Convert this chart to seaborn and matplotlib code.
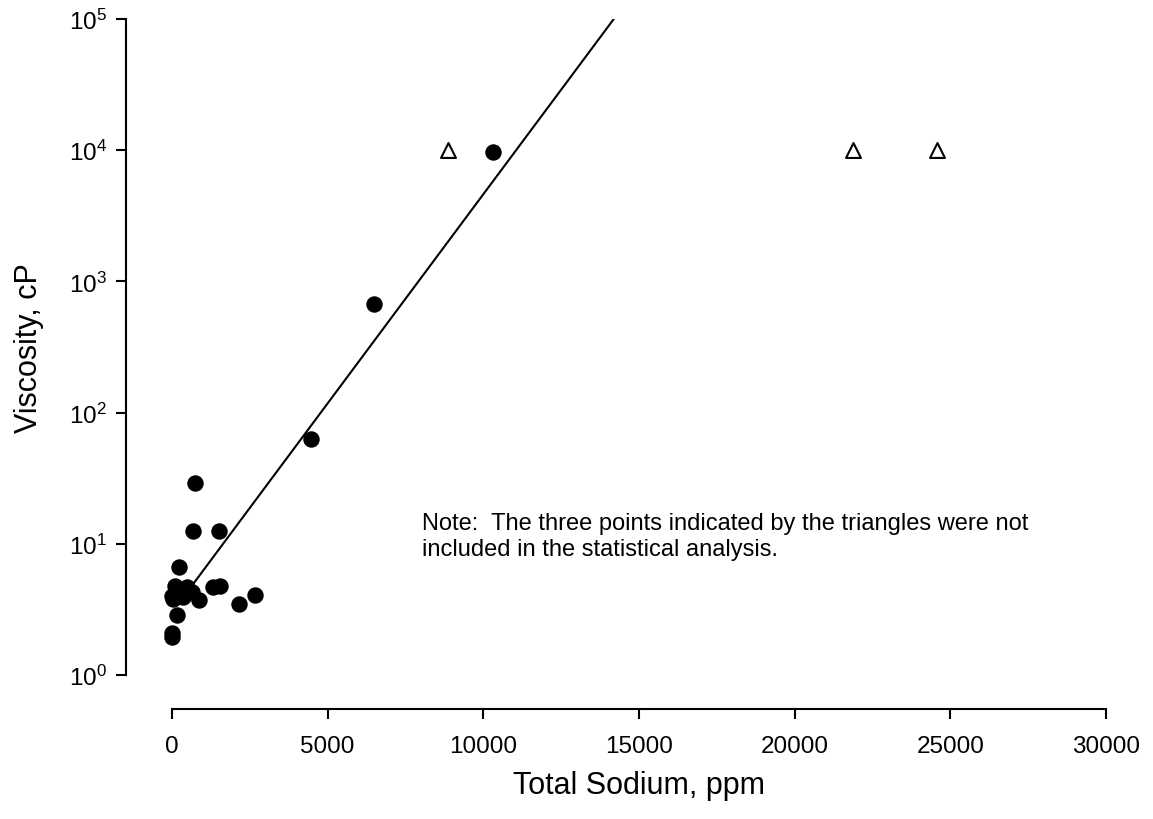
import matplotlib
matplotlib.use("Agg")
import matplotlib.pyplot as plt
import seaborn as sns
import pandas as pd

# points used in the fit (filled circles)
sodium_ppm = [10300, 6500, 4480, 740, 660, 1510, 230, 870, 1330, 1540, 2150, 2660,
              150, 0, 0, 0, 100, 260, 470, 360, 30, 630]
viscosity_cp = [9700, 670, 63, 29, 12.6, 12.6, 6.7, 3.7, 4.65, 4.8, 3.45, 4.1,
                2.87, 2.1, 1.95, 4.0, 4.8, 4.3, 4.7, 3.9, 3.8, 4.3]

# points left out of the analysis (open triangles)
excluded_sodium = [8860, 21870, 24570]
excluded_visc = [10000, 10000, 10000]

# regression line end points
fit_sodium = [680, 14190]
fit_visc = [4.94, 100000]

note = ("Note:  The three points indicated by the triangles were not\n"
        "included in the statistical analysis.")


def main():
    sns.set_style("ticks")
    plt.rcParams["font.family"] = ["Liberation Sans", "DejaVu Sans"]
    plt.rcParams["mathtext.fontset"] = "custom"
    plt.rcParams["mathtext.rm"] = "Liberation Sans"
    plt.rcParams["text.color"] = "black"
    plt.rcParams["axes.labelcolor"] = "black"

    df = pd.DataFrame({"sodium": sodium_ppm, "visc": viscosity_cp})
    df_ex = pd.DataFrame({"sodium": excluded_sodium, "visc": excluded_visc})
    df_fit = pd.DataFrame({"sodium": fit_sodium, "visc": fit_visc})

    fig = plt.figure(figsize=(11.53, 8.2), dpi=100)
    ax = fig.add_axes([172 / 1153, 144 / 820, 934 / 1153, 656 / 820])

    sns.lineplot(data=df_fit, x="sodium", y="visc", color="black", lw=1.5, ax=ax)
    sns.scatterplot(data=df, x="sodium", y="visc", color="black", s=140,
                    edgecolor="black", linewidth=0, ax=ax, zorder=3, clip_on=False)
    sns.scatterplot(data=df_ex, x="sodium", y="visc", marker="^", s=115,
                    facecolor="white", edgecolor="black", linewidth=1.5, ax=ax,
                    zorder=3, clip_on=False)

    ax.set_yscale("log")
    ax.set_xlim(0, 30000)
    ax.set_ylim(1, 1e5)
    ax.set_xticks([0, 5000, 10000, 15000, 20000, 25000, 30000])
    ax.set_yticks([1, 10, 100, 1000, 10000, 100000])
    ax.yaxis.set_minor_locator(matplotlib.ticker.NullLocator())

    ax.spines["top"].set_visible(False)
    ax.spines["right"].set_visible(False)
    ax.spines["left"].set_position(("outward", 33))
    ax.spines["bottom"].set_position(("outward", 24.5))
    for sp in ("left", "bottom"):
        ax.spines[sp].set_linewidth(1.5)
        ax.spines[sp].set_color("black")
    ax.tick_params(axis="both", direction="out", length=7, width=1.5,
                   labelsize=17.5, colors="black")
    ax.tick_params(axis="y", pad=7)
    ax.tick_params(axis="x", pad=12)

    ax.set_xlabel("Total Sodium, ppm", fontsize=22, labelpad=9)
    ax.set_ylabel("Viscosity, cP", fontsize=22, labelpad=18)

    ax.text(8030, 11.5, note, fontsize=17, ha="left", va="center", linespacing=1.2)

    fig.savefig("out.png", dpi=100)


if __name__ == "__main__":
    main()
